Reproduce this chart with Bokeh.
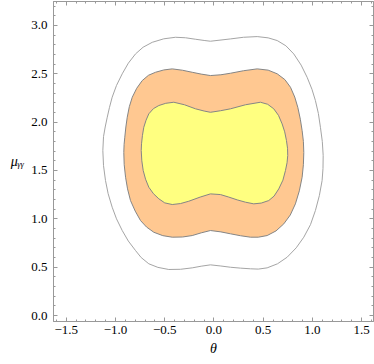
from bokeh.plotting import figure
from bokeh.models import Range1d, LinearAxis, SingleIntervalTicker, CustomLabelingPolicy
from bokeh.embed import file_html
from bokeh.resources import INLINE

# Contour traces (theta, mu)
outer_theta = [-0.036, 0.168, 0.30, 0.439, 0.55, 0.642, 0.73, 0.810, 0.885, 0.946, 0.995, 1.030,
               1.060, 1.081, 1.100, 1.109, 1.107, 1.098, 1.070, 1.030, 0.980, 0.912, 0.835,
               0.743, 0.645, 0.540, 0.450, 0.371, 0.270, 0.168, 0.070, -0.036, -0.130, -0.221,
               -0.340, -0.459, -0.570, -0.662, -0.740, -0.797, -0.870, -0.932, -0.990, -1.034,
               -1.075, -1.102, -1.122, -1.129, -1.122, -1.105, -1.084, -1.062, -1.034, -0.990,
               -0.932, -0.870, -0.797, -0.720, -0.627, -0.510, -0.391, -0.290, -0.190, -0.100,
               -0.036]
outer_mu = [2.837, 2.861, 2.878, 2.885, 2.872, 2.844, 2.790, 2.706, 2.590, 2.464, 2.340, 2.223,
            2.090, 1.947, 1.800, 1.655, 1.520, 1.396, 1.240, 1.086, 0.940, 0.810, 0.700,
            0.603, 0.535, 0.493, 0.480, 0.483, 0.490, 0.499, 0.512, 0.524, 0.510, 0.493,
            0.478, 0.476, 0.498, 0.535, 0.600, 0.672, 0.770, 0.879, 1.000, 1.120,
            1.260, 1.396, 1.550, 1.706, 1.850, 1.950, 2.051, 2.150, 2.258, 2.380,
            2.500, 2.610, 2.706, 2.775, 2.826, 2.862, 2.878, 2.873, 2.858, 2.845,
            2.837]

mid_theta = [-0.036, 0.070, 0.168, 0.300, 0.439, 0.550, 0.642, 0.720, 0.777, 0.820, 0.851,
             0.877, 0.895, 0.908, 0.912, 0.908, 0.895, 0.867, 0.827, 0.775, 0.709, 0.630,
             0.540, 0.450, 0.371, 0.270, 0.168, 0.070, -0.036, -0.130, -0.221, -0.320,
             -0.424, -0.520, -0.611, -0.685, -0.746, -0.800, -0.848, -0.878, -0.898, -0.912,
             -0.916, -0.913, -0.906, -0.895, -0.881, -0.860, -0.830, -0.785, -0.729, -0.665,
             -0.594, -0.510, -0.424, -0.320, -0.221, -0.130]
mid_mu = [2.482, 2.490, 2.506, 2.532, 2.551, 2.538, 2.500, 2.440, 2.361, 2.260, 2.154,
          2.030, 1.913, 1.800, 1.686, 1.560, 1.430, 1.290, 1.155, 1.040, 0.948, 0.875,
          0.827, 0.810, 0.810, 0.825, 0.845, 0.865, 0.879, 0.855, 0.827, 0.812,
          0.810, 0.826, 0.861, 0.915, 0.982, 1.080, 1.189, 1.310, 1.430, 1.560,
          1.686, 1.770, 1.844, 1.950, 2.051, 2.160, 2.258, 2.350, 2.430, 2.485,
          2.516, 2.540, 2.551, 2.537, 2.516, 2.497]

inner_theta = [-0.036, 0.066, 0.168, 0.320, 0.472, 0.545, 0.607, 0.655, 0.692, 0.718, 0.736,
               0.747, 0.749, 0.742, 0.726, 0.700, 0.658, 0.610, 0.556, 0.480, 0.404, 0.320,
               0.236, 0.150, 0.066, -0.036, -0.140, -0.256, -0.340, -0.424, -0.500, -0.560,
               -0.615, -0.662, -0.695, -0.719, -0.733, -0.739, -0.736, -0.727, -0.713, -0.690,
               -0.662, -0.615, -0.560, -0.490, -0.408, -0.300, -0.188, -0.100]
inner_mu = [2.102, 2.118, 2.138, 2.180, 2.206, 2.185, 2.138, 2.070, 1.982, 1.900, 1.810,
            1.730, 1.655, 1.580, 1.500, 1.400, 1.310, 1.235, 1.189, 1.163, 1.155, 1.172,
            1.196, 1.225, 1.251, 1.258, 1.225, 1.182, 1.158, 1.148, 1.165, 1.207,
            1.260, 1.327, 1.410, 1.500, 1.600, 1.706, 1.776, 1.860, 1.947, 2.020,
            2.086, 2.140, 2.172, 2.195, 2.206, 2.180, 2.138, 2.115]

x_ticks = [-1.5, -1.0, -0.5, 0.0, 0.5, 1.0, 1.5]
y_ticks = [0.0, 0.5, 1.0, 1.5, 2.0, 2.5, 3.0]

FONT = "Liberation Serif"
FRAME = "#999999"

p = figure(frame_width=320, frame_height=320, output_backend="svg", toolbar_location=None,
           x_range=Range1d(-1.63, 1.62), y_range=Range1d(-0.062, 3.248),
           min_border_left=53, min_border_right=1, min_border_top=1, min_border_bottom=42,
           x_axis_location=None, y_axis_location=None)
p.grid.visible = False
p.outline_line_color = FRAME
p.background_fill_color = "white"
p.border_fill_color = "white"

p.patch(mid_theta, mid_mu, fill_color="#FFC891", line_color="#858585", line_width=1)
p.patch(inner_theta, inner_mu, fill_color="#FFFF80", line_color="#858585", line_width=1)
p.line(outer_theta, outer_mu, line_color="#A5A5A5", line_width=1)

def style(ax, labels=True):
    ax.axis_line_color = FRAME
    ax.major_tick_line_color = FRAME
    ax.minor_tick_line_color = FRAME
    ax.major_tick_in = 4
    ax.major_tick_out = 0
    ax.minor_tick_in = 2
    ax.minor_tick_out = 0
    if labels:
        ax.major_label_text_font = FONT
        ax.major_label_text_font_size = "13px"
        ax.major_label_text_color = "black"
    else:
        ax.major_label_policy = CustomLabelingPolicy(code="if (false) { yield 0 }")
        ax.major_label_text_font_size = "0px"
        ax.major_label_standoff = 0

bx = LinearAxis(ticker=SingleIntervalTicker(interval=0.5, num_minor_ticks=5))
style(bx)
bx.major_label_standoff = 4
bx.major_label_overrides = {v: ("\u2212%.1f" % abs(v) if v < 0 else "%.1f" % v) for v in x_ticks}
bx.axis_label = "θ"
bx.axis_label_text_font = FONT
bx.axis_label_text_font_style = "italic"
bx.axis_label_text_font_size = "14px"
bx.axis_label_text_color = "black"
bx.axis_label_standoff = 4
p.add_layout(bx, "below")

ly = LinearAxis(ticker=SingleIntervalTicker(interval=0.5, num_minor_ticks=5))
style(ly)
ly.major_label_standoff = 6
ly.major_label_overrides = {v: "%.1f" % v for v in y_ticks}
ly.axis_label = "μᵧᵧ"
ly.axis_label_orientation = "horizontal"
ly.axis_label_text_font = FONT
ly.axis_label_text_font_style = "italic"
ly.axis_label_text_font_size = "14px"
ly.axis_label_text_color = "black"
ly.axis_label_standoff = 4
p.add_layout(ly, "left")

tx = LinearAxis(ticker=SingleIntervalTicker(interval=0.5, num_minor_ticks=5))
style(tx, labels=False)
p.add_layout(tx, "above")
ry = LinearAxis(ticker=SingleIntervalTicker(interval=0.5, num_minor_ticks=5))
style(ry, labels=False)
p.add_layout(ry, "right")

open("out.html", "w").write(file_html(p, INLINE))
